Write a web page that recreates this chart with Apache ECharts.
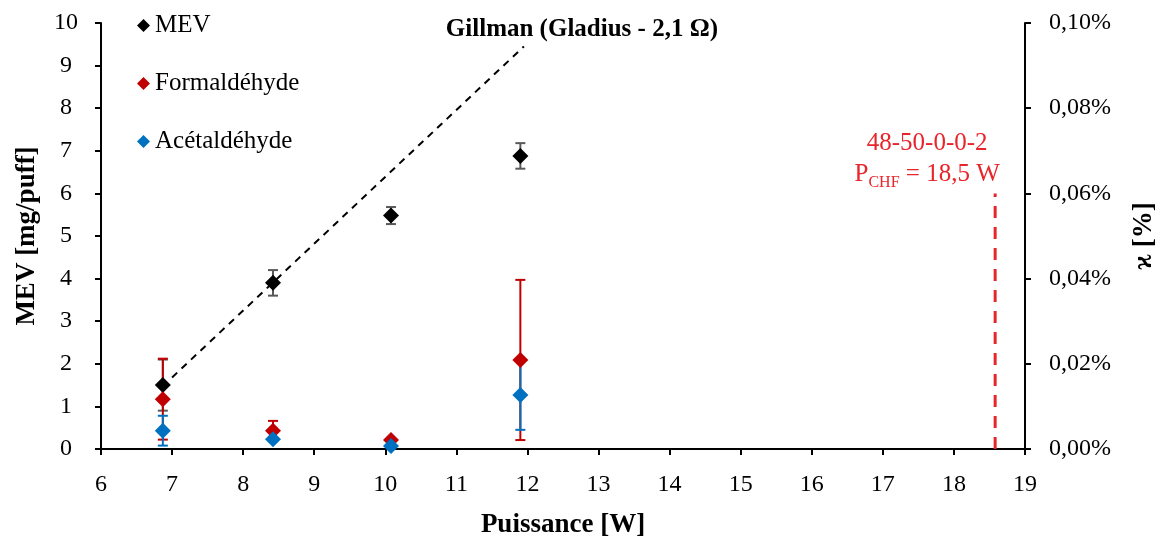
<!DOCTYPE html>
<html>
<head>
<meta charset="utf-8">
<script src="https://cdn.jsdelivr.net/npm/echarts@6/dist/echarts.min.js"></script>
<style>html,body{margin:0;padding:0;background:#fff;overflow:hidden}#c{width:1166px;height:545px}</style>
</head>
<body>
<div id="c"></div>
<script>
// ---- data ----
const power        = [6.87, 8.42, 10.08, 11.9];
const mev          = [1.5, 3.9, 5.48, 6.88];
const mevErr       = [0.6, 0.3, 0.2, 0.3];
const formaldehyde = [1.17, 0.43, 0.21, 2.09];
const formErr      = [0.95, 0.23, 0.03, 1.88];
const acetaldehyde = [0.43, 0.23, 0.07, 1.27];
const acetErr      = [0.35, 0.05, 0.03, 0.82];
const gillmanX     = [7.0, 11.95];
const gillmanY     = [1.68, 9.45];
const chfX         = [18.58, 18.58];
const chfY         = [0, 6];
const xTicks       = {min: 6, max: 19, interval: 1};
const yTicks       = {min: 0, max: 10, interval: 1};
const y2Ticks      = {min: 0, max: 0.1, interval: 0.02};

const FONT = 'Liberation Serif';
const C_MEV = '#000000', C_FORM = '#c00000', C_ACET = '#0070c0', C_RED = '#e8252b';

function pts(xs, ys){ return xs.map((x,i)=>[x, ys[i]]); }
function errData(xs, ys, es){ return xs.map((x,i)=>[x, ys[i]-es[i], ys[i]+es[i]]); }
function errSeries(name, xs, ys, es, color){
  return {
    type: 'custom', name: name + '_err', silent: true, z: 2,
    data: errData(xs, ys, es),
    renderItem: function(params, api){
      const x = api.value(0);
      const lo = api.coord([x, api.value(1)]);
      const hi = api.coord([x, api.value(2)]);
      const w = 5;
      const st = {stroke: color, lineWidth: 2};
      return {type:'group', children:[
        {type:'line', shape:{x1:lo[0], y1:lo[1], x2:hi[0], y2:hi[1]}, style: st},
        {type:'line', shape:{x1:lo[0]-w, y1:lo[1], x2:lo[0]+w, y2:lo[1]}, style: st},
        {type:'line', shape:{x1:hi[0]-w, y1:hi[1], x2:hi[0]+w, y2:hi[1]}, style: st}
      ]};
    }
  };
}

const chart = echarts.init(document.getElementById('c'), null, {renderer:'canvas', width:1166, height:545});
const axisLabelStyle = {color:'#000', fontFamily: FONT, fontSize: 24};
const nameStyle = {color:'#000', fontFamily: FONT, fontSize: 27, fontWeight: 'bold'};
chart.setOption({
  animation: false,
  backgroundColor: '#fff',
  textStyle: {fontFamily: FONT},
  grid: {left: 101, right: 141, top: 23, bottom: 96},
  legend: {
    orient: 'vertical', left: 132, top: 8, itemGap: 33,
    icon: 'diamond', itemWidth: 13, itemHeight: 13,
    textStyle: {color:'#000', fontFamily: FONT, fontSize: 25, lineHeight: 25},
    data: ['MEV', 'Formaldéhyde', 'Acétaldéhyde']
  },
  xAxis: {
    type: 'value', min: xTicks.min, max: xTicks.max, interval: xTicks.interval,
    name: 'Puissance [W]', nameLocation: 'middle', nameGap: 63,
    nameTextStyle: nameStyle,
    axisLine: {onZero:false, lineStyle:{color:'#000', width:2}},
    axisTick: {inside:false, length:6, lineStyle:{color:'#000', width:2}},
    axisLabel: Object.assign({margin: 24}, axisLabelStyle),
    splitLine: {show:false}
  },
  yAxis: [{
    type: 'value', min: yTicks.min, max: yTicks.max, interval: yTicks.interval,
    name: 'MEV [mg/puff]', nameLocation: 'middle', nameGap: 60, nameRotate: 90,
    nameTextStyle: nameStyle,
    axisLine: {show:true, lineStyle:{color:'#000', width:2}},
    axisTick: {show:true, inside:false, length:6, lineStyle:{color:'#000', width:2}},
    axisLabel: Object.assign({margin: 35, align: 'center'}, axisLabelStyle),
    splitLine: {show:false}
  },{
    type: 'value', position: 'right', min: y2Ticks.min, max: y2Ticks.max, interval: y2Ticks.interval,
    name: 'ϰ [%]', nameLocation: 'middle', nameGap: 106, nameRotate: 90,
    nameTextStyle: nameStyle,
    axisLine: {show:true, lineStyle:{color:'#000', width:2}},
    axisTick: {show:true, inside:false, length:6, lineStyle:{color:'#000', width:2}},
    axisLabel: Object.assign({margin: 24, formatter: v => v.toFixed(2).replace('.', ',') + '%'}, axisLabelStyle),
    splitLine: {show:false}
  }],
  series: [
    {
      type: 'line', name: 'gillman', data: pts(gillmanX, gillmanY), symbol: 'none', z: 1,
      lineStyle: {color:'#000', width: 2, type: [7, 6]},
      markPoint: {
        symbol: 'rect', symbolSize: 0,
        data: [{coord: [gillmanX[1], gillmanY[1]], value: 0,
          label: {show:true, formatter: 'Gillman (Gladius - 2,1 Ω)', position: 'top', offset: [58, 1],
            color:'#000', fontFamily: FONT, fontSize: 25, fontWeight: 'bold'}}]
      }
    },
    {
      type: 'line', name: 'chf', data: pts(chfX, chfY), symbol: 'none', z: 1,
      lineStyle: {color: C_RED, width: 3, type: [12, 9]},
      markPoint: {
        symbol: 'rect', symbolSize: 0,
        data: [{coord: [chfX[1], chfY[1]], value: 0,
          label: {show:true, position: 'top', offset: [-68, 2], align: 'center',
            formatter: '{a|48-50-0-0-2}\n{a|P}{s|CHF}{a| = 18,5 W}',
            rich: {
              a: {color: C_RED, fontFamily: FONT, fontSize: 25, lineHeight: 31},
              s: {color: C_RED, fontFamily: FONT, fontSize: 16, lineHeight: 31, verticalAlign: 'bottom', padding:[6,0,0,0]}
            }}}]
      }
    },
    errSeries('MEV', power, mev, mevErr, '#595959'),
    errSeries('Formaldéhyde', power, formaldehyde, formErr, C_FORM),
    errSeries('Acétaldéhyde', power, acetaldehyde, acetErr, C_ACET),
    {type:'scatter', name:'MEV', data: pts(power, mev), symbol:'diamond', symbolSize:[16,16], itemStyle:{color:C_MEV, opacity:1}, z:3},
    {type:'scatter', name:'Formaldéhyde', data: pts(power, formaldehyde), symbol:'diamond', symbolSize:[16,16], itemStyle:{color:C_FORM, opacity:1}, z:3},
    {type:'scatter', name:'Acétaldéhyde', data: pts(power, acetaldehyde), symbol:'diamond', symbolSize:[16,16], itemStyle:{color:C_ACET, opacity:1}, z:3}
  ]
});
</script>
</body>
</html>
